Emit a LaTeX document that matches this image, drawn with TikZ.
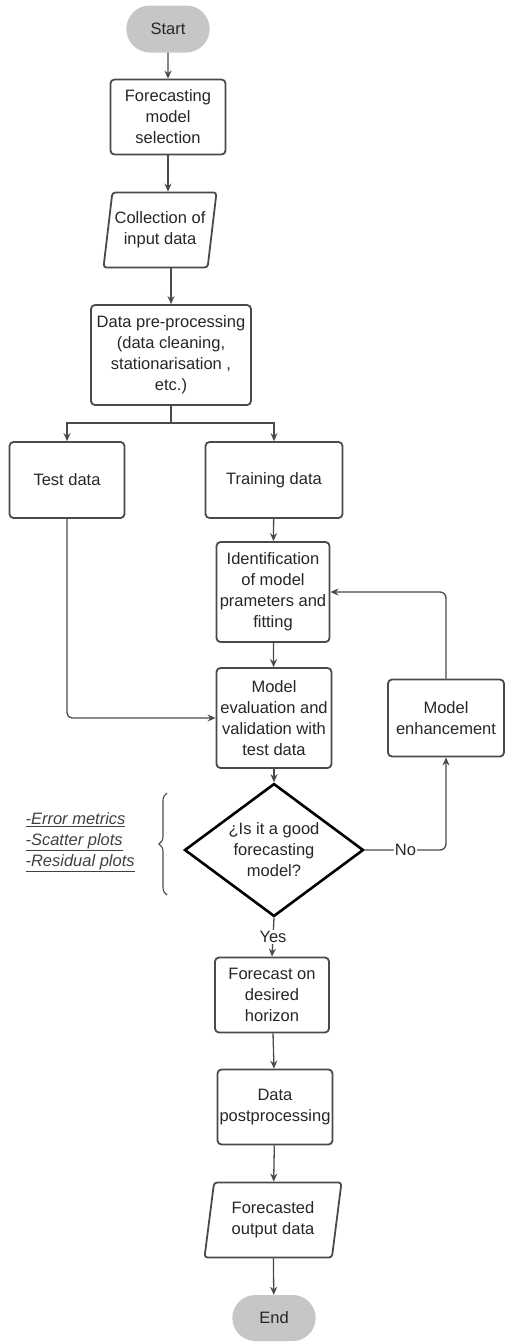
\documentclass[tikz,border=0pt]{standalone}
\usepackage{fontspec}
\setmainfont{Liberation Sans}
\usetikzlibrary{shapes.geometric,shapes.misc,decorations.pathreplacing,arrows.meta}
\definecolor{termgray}{HTML}{C6C6C6}
\definecolor{linegray}{HTML}{4A4A4A}
\newcommand{\flowfont}{\fontsize{16.5}{21}\selectfont}
\newcommand{\ulit}[1]{\underline{\textit{#1}}}

\begin{document}
\begin{tikzpicture}[x=1pt,y=-1pt,
  font=\flowfont, text=black!85,
  term/.style={rounded rectangle, fill=termgray, minimum width=90, minimum height=47},
  proc/.style={rectangle, draw=linegray, line width=1.8, rounded corners=4, align=center, inner sep=2},
  io/.style={trapezium, draw=linegray, line width=1.8, rounded corners=3, align=center,
    trapezium stretches body, minimum height=75, inner sep=1},
  decide/.style={diamond, draw=black, line width=2.6, align=center, inner sep=-3pt,
    minimum width=179, minimum height=111},
  flow/.style={draw=linegray, line width=1.3, -{Stealth[length=8pt,width=7pt]}},
  lbl/.style={fill=white, inner sep=1pt}]
\useasboundingbox (0,0) rectangle (506,1342);

\node[term] (start) at (168,29) {Start};
\node[proc, minimum width=115, minimum height=75] (select) at (168,117) {Forecasting\\model\\selection};
\node[io, trapezium left angle=77, trapezium right angle=103, minimum width=113] (collect) at (160,230) {Collection of\\input data};
\node[proc, minimum width=160, minimum height=100] (pre) at (171,355) {Data pre-processing\\(data cleaning,\\stationarisation ,\\etc.)};
\node[proc, minimum width=115, minimum height=76] (test) at (67,480) {Test data};
\node[proc, minimum width=137, minimum height=76] (train) at (274,480) {Training data};
\node[proc, minimum width=113, minimum height=100] (ident) at (273,592) {Identification\\of model\\prameters and\\fitting};
\node[proc, minimum width=115, minimum height=100] (eval) at (274,718) {Model\\evaluation and\\validation with\\test data};
\node[proc, minimum width=116, minimum height=77] (enh) at (446,718) {Model\\enhancement};
\node[decide] (dec) at (274,850) {¿Is it a good\\forecasting\\model?};
\node[proc, minimum width=114, minimum height=75] (fcast) at (272,995) {Forecast on\\desired\\horizon};
\node[proc, minimum width=114, minimum height=75] (post) at (275,1107) {Data\\postprocessing};
\node[io, trapezium left angle=76, trapezium right angle=104, minimum width=137] (out) at (273,1220) {Forecasted\\output data};
\node[term, minimum height=46] (end) at (274,1318) {End};

\node[anchor=west, align=left, text=black!75] (checks) at (22,842) {\ulit{-Error metrics}\\\ulit{-Scatter plots}\\\ulit{-Residual plots}};
\coordinate (bracebot) at (167,895);
\coordinate (bracetop) at (167,793);
\draw[decorate, decoration={brace, amplitude=8pt}, draw=linegray, line width=1.1] (bracebot) -- (bracetop);

\coordinate (split) at (171,423);
\draw[draw=linegray, line width=1.3] (pre.south) -- (split);
\draw[flow] (split) -| (test.north);
\draw[flow] (split) -| (train.north);

\draw[flow] (select.south) -- (select.south |- collect.north);
\draw[flow] (collect.south -| pre.north) -- (pre.north);
\path[flow]
(start) edge (select)
(train) edge (ident)
(ident) edge (eval)
(eval) edge (dec)
(fcast) edge (post)
(post) edge (out)
(out) edge (end);

\draw[flow, rounded corners=5] (test.south) |- (eval.west);
\draw[flow, rounded corners=6] (enh.north) |- (ident.east);
\draw[flow, rounded corners=6] (dec.east) -| node[lbl, pos=0.25] {No} (enh.south);
\draw[flow] (dec.south) -- node[lbl] {Yes} (fcast.north);

\end{tikzpicture}
\end{document}
